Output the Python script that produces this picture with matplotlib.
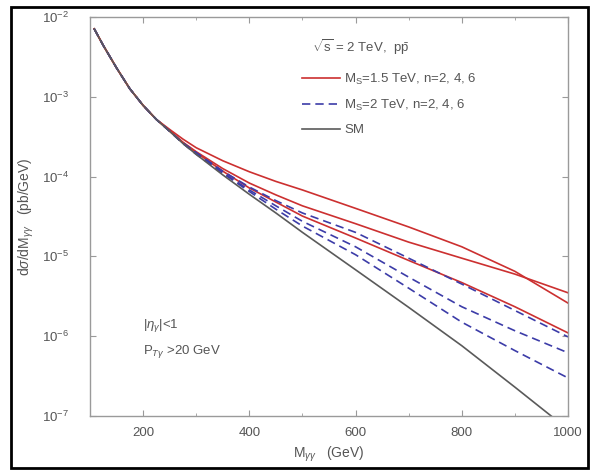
import numpy as np
import matplotlib
matplotlib.use("Agg")
from matplotlib import pyplot as plt
from matplotlib.patches import Rectangle
from matplotlib.ticker import MultipleLocator, LogLocator, NullLocator

plt.rcParams['font.family'] = ['Liberation Sans', 'DejaVu Sans']
plt.rcParams['mathtext.fontset'] = 'custom'
plt.rcParams['mathtext.rm'] = 'Liberation Sans'
plt.rcParams['mathtext.it'] = 'Liberation Sans:italic'

# diphoton invariant mass (GeV)
m_gg = [108, 125, 150, 175, 200, 225, 250, 275, 300, 350, 400, 450, 500, 600, 700, 800, 900, 1000]

# dsigma/dM (pb/GeV), common low-mass part
low = [7.1e-3, 4.4e-3, 2.3e-3, 1.26e-3, 7.8e-4, 5.2e-4]

sm = low + [3.7e-4, 2.6e-4, 1.9e-4, 1.05e-4, 6.0e-5, 3.5e-5, 2.0e-5, 6.8e-6, 2.3e-6, 7.6e-7, 2.3e-7, 6.8e-8]

# M_S = 1.5 TeV, n = 2, 4, 6
ms15_n2 = low + [3.9e-4, 2.95e-4, 2.3e-4, 1.58e-4, 1.15e-4, 8.7e-5, 6.8e-5, 4.0e-5, 2.34e-5, 1.32e-5, 6.5e-6, 2.6e-6]
ms15_n4 = low + [3.8e-4, 2.7e-4, 2.05e-4, 1.26e-4, 8.3e-5, 5.9e-5, 4.3e-5, 2.57e-5, 1.51e-5, 9.5e-6, 6.0e-6, 3.5e-6]
ms15_n6 = low + [3.7e-4, 2.65e-4, 2.0e-4, 1.17e-4, 7.2e-5, 4.8e-5, 3.2e-5, 1.7e-5, 8.9e-6, 4.7e-6, 2.34e-6, 1.1e-6]

# M_S = 2 TeV, n = 2, 4, 6
ms2_n2 = low + [3.7e-4, 2.65e-4, 2.0e-4, 1.17e-4, 7.4e-5, 5.0e-5, 3.5e-5, 2.0e-5, 9.5e-6, 4.5e-6, 2.1e-6, 9.8e-7]
ms2_n4 = low + [3.7e-4, 2.6e-4, 1.95e-4, 1.12e-4, 6.8e-5, 4.3e-5, 2.75e-5, 1.32e-5, 5.5e-6, 2.34e-6, 1.17e-6, 6.2e-7]
ms2_n6 = low + [3.7e-4, 2.6e-4, 1.9e-4, 1.1e-4, 6.5e-5, 3.9e-5, 2.4e-5, 1.05e-5, 4.0e-6, 1.5e-6, 6.6e-7, 3.0e-7]

red = "#cc3030"
blue = "#3c3ca8"
grey = "#5a5a5a"
txt = "#555555"

fig = plt.figure(figsize=(5.9, 4.7), dpi=100)
ax = fig.add_axes([90/590, 1-416/470, 478/590, 399/470])

for y in [ms15_n2, ms15_n4, ms15_n6]:
    ax.plot(m_gg, y, color=red, lw=1.2)
for y in [ms2_n2, ms2_n4, ms2_n6]:
    ax.plot(m_gg, y, color=blue, lw=1.2, ls=(0, (5, 3)))
ax.plot(m_gg, sm, color=grey, lw=1.2)

ax.set_yscale("log")
ax.set_xlim(100, 1000)
ax.set_ylim(1e-7, 1e-2)
ax.xaxis.set_major_locator(MultipleLocator(200))
ax.xaxis.set_minor_locator(MultipleLocator(100))
ax.yaxis.set_major_locator(LogLocator(base=10, numticks=10))
ax.yaxis.set_minor_locator(NullLocator())

for s in ax.spines.values():
    s.set_color("#9a9a9a")
    s.set_linewidth(1.0)
ax.tick_params(which="both", direction="in", top=True, right=True,
               colors="#9a9a9a", labelcolor=txt, labelsize=9.5)
ax.tick_params(which="major", length=4)
ax.tick_params(which="minor", length=2.5)
ax.tick_params(axis="x", pad=8)
ax.tick_params(axis="y", pad=15)

ax.set_xlabel(r"M$_{\gamma\gamma}$   (GeV)", color=txt, fontsize=10, labelpad=4)
ax.set_ylabel(r"d$\sigma$/dM$_{\gamma\gamma}$   (pb/GeV)", color=txt, fontsize=10, labelpad=4)

# legend
ax.text(0.465, 0.925, r"$\sqrt{\rm s}$ = 2 TeV,  p$\bar{\rm p}$", transform=ax.transAxes,
        color=txt, fontsize=9.5, va="center")
ax.legend([plt.Line2D([], [], color=red, lw=1.2),
           plt.Line2D([], [], color=blue, lw=1.2, ls=(0, (5, 3))),
           plt.Line2D([], [], color=grey, lw=1.2)],
          [r"M$_{\rm S}$=1.5 TeV, n=2, 4, 6", r"M$_{\rm S}$=2 TeV, n=2, 4, 6", "SM"],
          loc="upper left", bbox_to_anchor=(0.43, 0.88), frameon=False,
          fontsize=9.5, handlelength=2.9, handletextpad=0.3, labelspacing=0.85,
          borderpad=0, labelcolor=txt)

ax.text(0.11, 0.22, r"|$\eta_\gamma$|<1", transform=ax.transAxes, color=txt, fontsize=9.5)
ax.text(0.11, 0.155, r"P$_{T\gamma}$ >20 GeV", transform=ax.transAxes, color=txt, fontsize=9.5)

fig.patches.append(Rectangle((11/590, 2/470), 577/590, 461/470, transform=fig.transFigure,
                             fill=False, ec="black", lw=2))

fig.savefig("out.png", dpi=100)
